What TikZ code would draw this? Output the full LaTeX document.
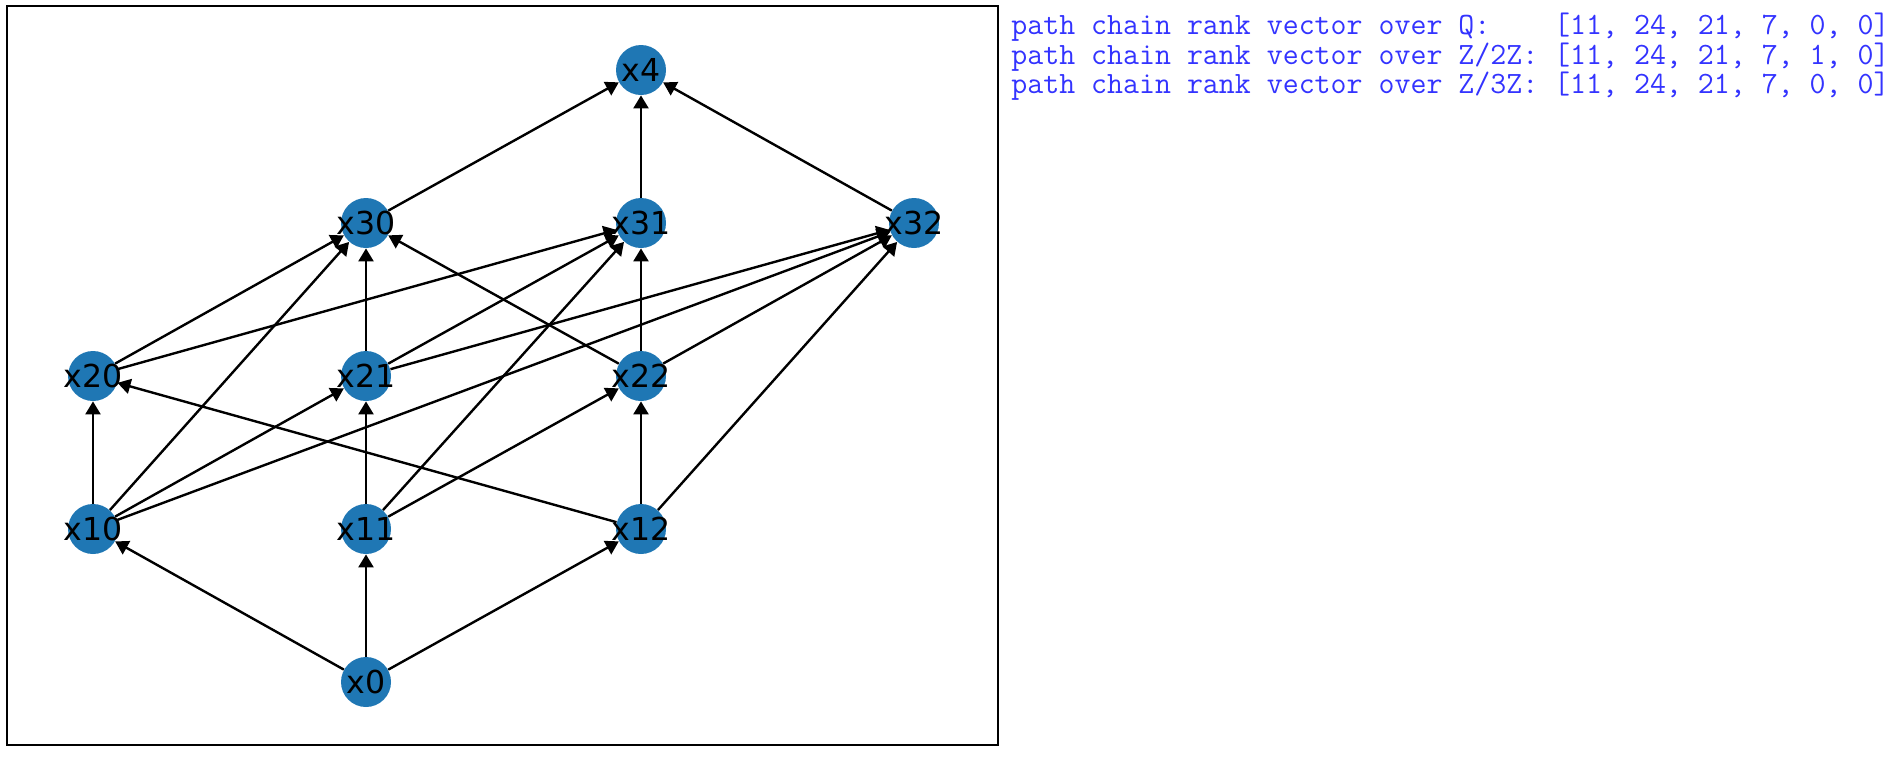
\documentclass[tikz,border=0pt]{standalone}
\usepackage{fontspec}
\setmainfont{DejaVu Sans}
\usetikzlibrary{arrows.meta}
\definecolor{vertexblue}{HTML}{1F77B4}
\definecolor{rankblue}{rgb}{0.2,0.2,1}
\tikzset{
  vertex/.style={circle,fill=vertexblue,minimum size=25pt,inner sep=0pt,
    label={[font=\fontsize{15.8}{16}\selectfont,inner sep=0pt]center:#1}},
  edge/.style={-{Triangle[length=6.5pt,width=7.5pt]},line width=1.2pt},
  rankline/.style={anchor=base west,inner sep=0pt,text=rankblue,
    font=\ttfamily\fontsize{15.5}{16}\selectfont}
}
\begin{document}
\begin{tikzpicture}[x=0.5pt,y=-0.5pt]
        \useasboundingbox (0,0) rectangle (1896,756);
        \draw[line width=1.1pt] (7,6) rectangle (998,745);
        % the lattice
        \node[vertex=x4] (x4) at (641,70) {};
        \foreach \i/\x in {0/366, 1/641, 2/914}{
          \node[vertex=x3\i] (x3\i) at (\x,223) {};
        }
        \foreach \i/\x in {0/93, 1/366, 2/641}{
          \node[vertex=x2\i] (x2\i) at (\x,376) {};
          \node[vertex=x1\i] (x1\i) at (\x,529) {};
        }
        \node[vertex=x0] (x0) at (366,682) {};
        \foreach \a/\b in {x0/x10, x0/x11, x0/x12,
            x10/x20, x10/x21, x10/x30, x10/x32,
            x11/x21, x11/x22, x11/x31,
            x12/x22, x12/x20, x12/x32,
            x20/x30, x20/x31,
            x21/x30, x21/x31, x21/x32,
            x22/x30, x22/x31, x22/x32,
            x30/x4, x31/x4, x32/x4}{
          \draw[edge] (\a) -- (\b);
        }
        % the rank vectors
        \node[rankline] (rankQ) at (1011,34.3) {path chain rank vector over Q:\ \ \ \ [11, 24, 21, 7, 0, 0]};
        \node[rankline] (rankZtwo) at (1011,64) {path chain rank vector over Z/2Z: [11, 24, 21, 7, 1, 0]};
        \node[rankline] (rankZthree) at (1011,93) {path chain rank vector over Z/3Z: [11, 24, 21, 7, 0, 0]};
      \end{tikzpicture}
\end{document}
